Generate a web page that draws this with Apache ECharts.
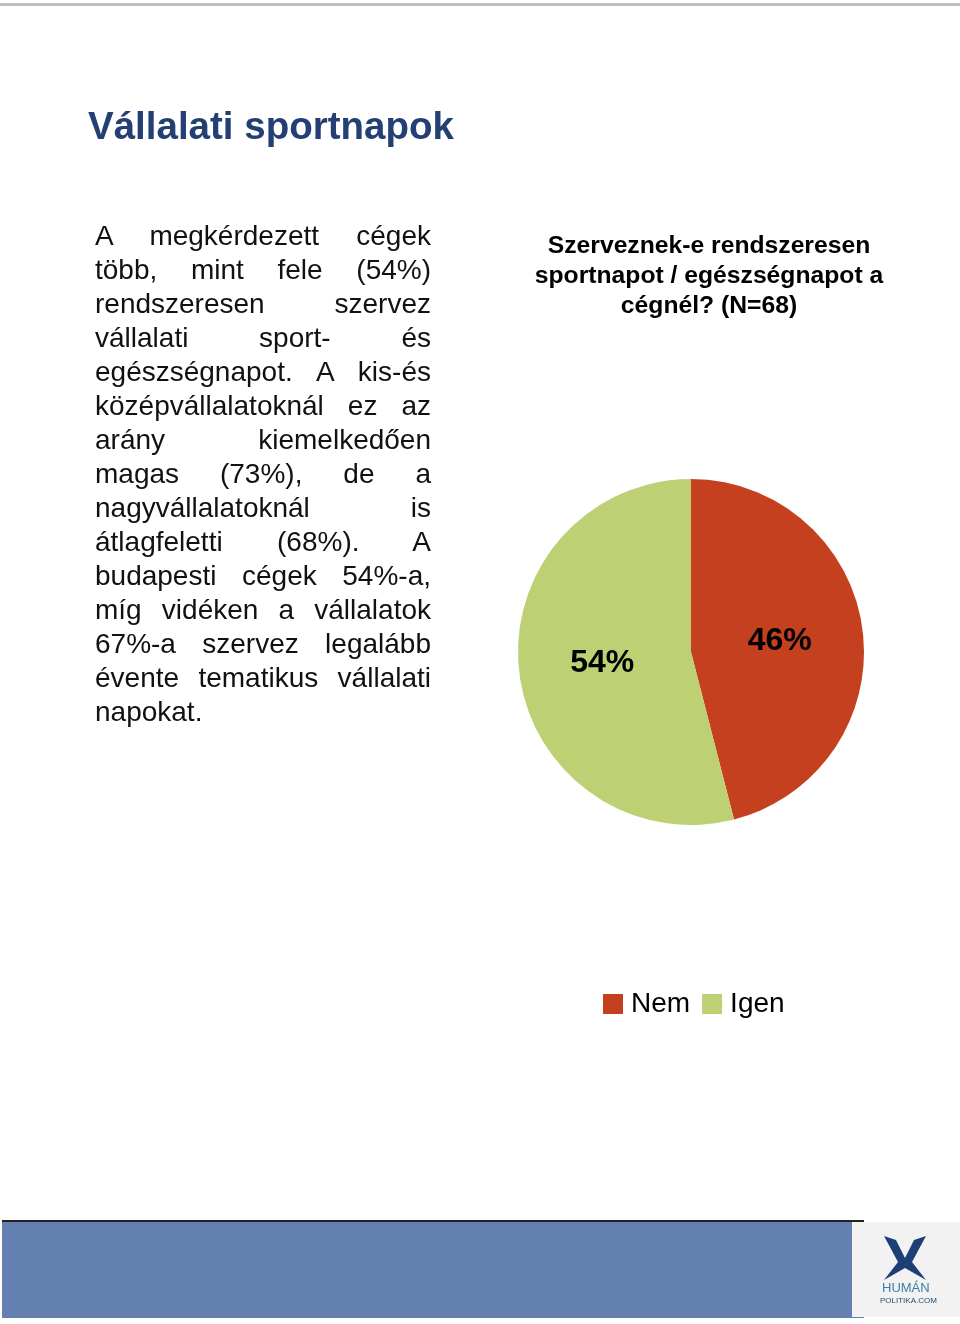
<!DOCTYPE html>
<html>
<head>
<meta charset="utf-8">
<script src="https://cdn.jsdelivr.net/npm/echarts@6/dist/echarts.min.js"></script>
<style>
  html, body { margin:0; padding:0; background:#fff; }
  #page { position:relative; width:960px; height:1324px; overflow:hidden; }
  #chart { position:absolute; left:0; top:0; width:960px; height:1324px; }
  #para { position:absolute; left:95px; top:219px; width:336px; font-family:"Liberation Sans", Arial, sans-serif; font-size:28px; line-height:34px; color:#111; }
  #para div { text-align:justify; text-align-last:justify; white-space:normal; }
  #para div.last { text-align-last:left; }
</style>
</head>
<body>
<div id="page">
  <div id="chart"></div>
  <div id="para"></div>
</div>
<script>
const pageTitle = "Vállalati sportnapok";
const chartTitle = "Szerveznek-e rendszeresen\nsportnapot / egészségnapot a\ncégnél? (N=68)";
const categories = ["Nem", "Igen"];
const values = [46, 54];
const colors = ["#C5401F", "#BDD174"];
const paragraphLines = [
  "A megkérdezett cégek",
  "több, mint fele (54%)",
  "rendszeresen szervez",
  "vállalati sport- és",
  "egészségnapot. A kis-és",
  "középvállalatoknál ez az",
  "arány kiemelkedően",
  "magas (73%), de a",
  "nagyvállalatoknál is",
  "átlagfeletti (68%). A",
  "budapesti cégek 54%-a,",
  "míg vidéken a vállalatok",
  "67%-a szervez legalább",
  "évente tematikus vállalati",
  "napokat."
];

const para = document.getElementById('para');
paragraphLines.forEach((l, i) => {
  const d = document.createElement('div');
  if (i === paragraphLines.length - 1) d.className = 'last';
  d.textContent = l;
  para.appendChild(d);
});

const chart = echarts.init(document.getElementById('chart'), null, {renderer:'canvas'});
const font = '"Liberation Sans", Arial, sans-serif';
chart.setOption({
  animation: false,
  textStyle: { fontFamily: font },
  legend: {
    data: categories,
    left: 598, top: 985,
    itemWidth: 20, itemHeight: 20, itemGap: 12,
    icon: 'rect',
    itemStyle: { borderWidth: 0 },
    textStyle: { fontFamily: font, fontSize: 28, color: '#000', padding: [0,0,0,3] }
  },
  graphic: [
    { type: 'rect', shape: { x: 0, y: 3, width: 960, height: 3 }, style: { fill: '#bdbdbd' } },
    { type: 'text', left: 88, top: 109, style: { text: pageTitle, font: 'bold 38.5px ' + font, fill: '#243F73' } },
    { type: 'text', x: 709, y: 231, style: { text: chartTitle, font: 'bold 24.7px ' + font, fill: '#000', align: 'center', lineHeight: 30 } },
    { type: 'rect', shape: { x: 2, y: 1221, width: 862, height: 97 }, style: { fill: '#6380B0', stroke: null } },
    { type: 'rect', shape: { x: 2, y: 1220, width: 862, height: 2 }, style: { fill: '#222' } },
    { type: 'rect', shape: { x: 852, y: 1222, width: 108, height: 95 }, style: { fill: '#f2f2f2' } },
    { type: 'text', left: 882, top: 1282, style: { text: 'HUMÁN', font: '13px ' + font, fill: '#3a7fa8' } },
    { type: 'text', left: 880, top: 1297, style: { text: 'POLITIKA.COM', font: '8px ' + font, fill: '#2a4a70' } },
    { type: 'polygon', shape: { points: [[884,1236],[896,1240],[905,1258],[914,1240],[926,1236],[912,1262],[926,1280],[905,1268],[884,1280],[898,1262]] }, style: { fill: '#1d3f75' } }
  ],
  series: [{
    type: 'pie',
    center: [691, 652],
    radius: 173,
    startAngle: 90,
    clockwise: true,
    data: categories.map((c, i) => ({ name: c, value: values[i], itemStyle: { color: colors[i] } })),
    itemStyle: { borderWidth: 0 },
    label: {
      show: true, position: 'inside',
      formatter: p => p.value + '%',
      fontFamily: font, fontSize: 32, fontWeight: 'bold', color: '#000'
    },
    labelLine: { show: false },
    emphasis: { disabled: true }
  }]
});
</script>
</body>
</html>
